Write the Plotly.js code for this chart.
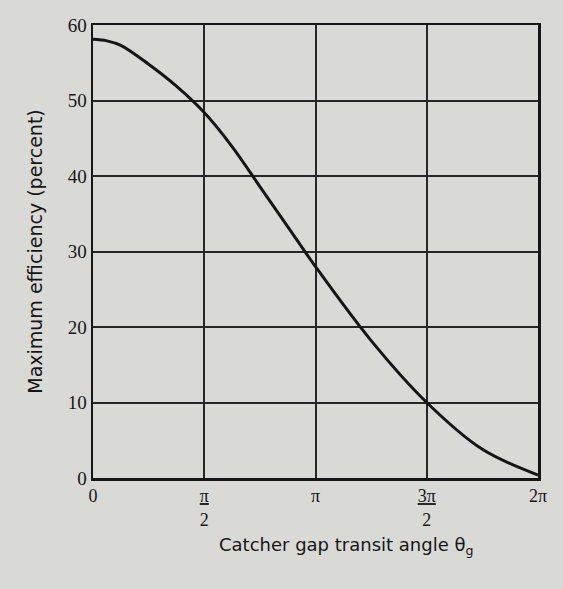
<!DOCTYPE html>
<html>
<head>
<meta charset="utf-8">
<script src="https://cdn.plot.ly/plotly-3.0.1.min.js"></script>
<style>html,body{margin:0;padding:0;background:#d9d9d6;}#chart{width:563px;height:589px;}</style>
</head>
<body>
<div id="chart"></div>
<script>
// Catcher gap transit angle, in multiples of pi
const thetaOverPi = [0, 0.0625, 0.125, 0.25, 0.375, 0.5, 0.625, 0.75, 0.875, 1.0, 1.25, 1.5, 1.75, 2.0];
// Maximum efficiency (percent)
const efficiency = [58.1, 57.9, 57.3, 54.8, 51.9, 48.4, 43.9, 38.6, 33.3, 28.0, 18.2, 10.0, 3.8, 0.4];
// x tick positions (multiples of pi) and labels
const tickOverPi = [0, 0.5, 1, 1.5, 2];
const tickLabels = ['0', '<span style="text-decoration:underline">π</span><br>2', 'π', '<span style="text-decoration:underline">3π</span><br>2', '2π'];
const yTicks = [0, 10, 20, 30, 40, 50, 60];
const xTitle = 'Catcher gap transit angle θ<sub>g</sub>';
const yTitle = 'Maximum efficiency (percent)';

const x = thetaOverPi.map(t => t * Math.PI);
const tickVals = tickOverPi.map(t => t * Math.PI);

const trace = {
  x: x, y: efficiency, type: 'scatter', mode: 'lines',
  line: {color: '#151515', width: 3, shape: 'spline', smoothing: 1},
  hoverinfo: 'skip'
};

const serif = '"Liberation Serif", "DejaVu Serif", serif';
const sans = '"DejaVu Sans", "Noto Sans", sans-serif';
const ink = '#161616';

const layout = {
  width: 563, height: 589,
  paper_bgcolor: '#d9d9d6', plot_bgcolor: '#d9d9d6',
  margin: {l: 93, r: 25, t: 25, b: 111},
  showlegend: false,
  font: {family: serif, color: ink},
  xaxis: {
    range: [0, 2 * Math.PI], tickvals: tickVals, ticktext: tickLabels,
    showgrid: true, gridcolor: '#262626', gridwidth: 2,
    showline: true, linecolor: ink, linewidth: 2.5, mirror: true,
    zeroline: false, ticks: '', tickfont: {size: 18, family: serif, color: ink}
  },
  yaxis: {
    range: [0, 60], tickvals: yTicks,
    showgrid: true, gridcolor: '#262626', gridwidth: 2,
    showline: true, linecolor: ink, linewidth: 2.5, mirror: true,
    zeroline: false, ticks: '', tickfont: {size: 19, family: serif, color: ink},
    title: {text: yTitle, font: {size: 19, family: sans, color: ink}, standoff: 20}
  },
  annotations: [{
    text: xTitle, xref: 'paper', yref: 'paper', x: 0.57, y: -0.15,
    xanchor: 'center', yanchor: 'middle', showarrow: false,
    font: {size: 18, family: sans, color: ink}
  }]
};

Plotly.newPlot('chart', [trace], layout, {displayModeBar: false, staticPlot: true});
</script>
</body>
</html>
